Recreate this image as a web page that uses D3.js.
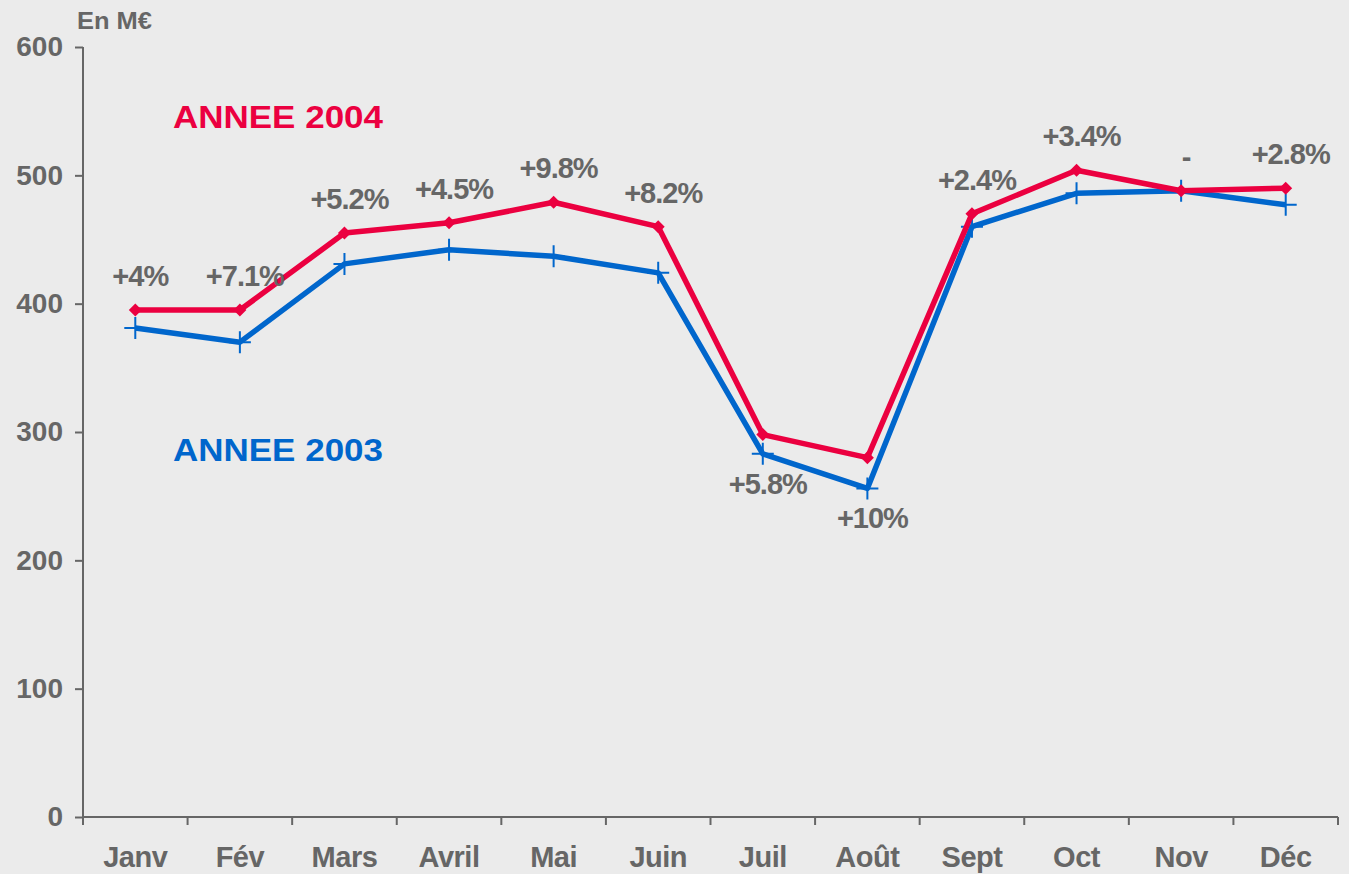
<!DOCTYPE html>
<html>
<head>
<meta charset="utf-8">
<script src="https://cdn.jsdelivr.net/npm/d3@7"></script>
<style>
  html, body { margin: 0; padding: 0; background: #ebebeb; }
  svg { display: block; font-family: "Liberation Sans", Arial, sans-serif; font-weight: bold; }
  .axis path, .axis line { stroke: #666; stroke-width: 2; }
  .axis text { fill: #666; font-size: 29px; letter-spacing: -0.5px; font-weight: bold; }
</style>
</head>
<body>
<div id="plot"></div>
<script>
// data
var months = ['Janv', 'Fév', 'Mars', 'Avril', 'Mai', 'Juin', 'Juil', 'Août', 'Sept', 'Oct', 'Nov', 'Déc'];
var values2004 = [395, 395, 455, 463, 479, 460, 298, 280, 470, 504, 488, 490];
var values2003 = [381, 370, 431, 442, 437, 424, 283, 256, 460, 486, 488, 477];
var growth = ['+4%', '+7.1%', '+5.2%', '+4.5%', '+9.8%', '+8.2%', '+5.8%', '+10%', '+2.4%', '+3.4%', '-', '+2.8%'];
var labelSide = ['up', 'up', 'up', 'up', 'up', 'up', 'down', 'down', 'up', 'up', 'up', 'up'];
var yTicks = [0, 100, 200, 300, 400, 500, 600];

var W = 1349, H = 874;
var margin = {t: 47, r: 11, b: 57, l: 83};
var width = W - margin.l - margin.r,
    height = H - margin.t - margin.b;

var red = '#eb0040', blue = '#0066cc', grey = '#666666';

var svg = d3.select('#plot').append('svg')
    .attr('width', W)
    .attr('height', H);

svg.append('rect').attr('width', W).attr('height', H).attr('fill', '#ebebeb');

var g = svg.append('g').attr('transform', 'translate(' + margin.l + ',' + margin.t + ')');

// scales
var x = d3.scaleBand().domain(months).range([0, width]).padding(0);
var y = d3.scaleLinear().domain([0, 600]).range([height, 0]);
var cx = function(d, i) { return x(months[i]) + x.bandwidth() / 2; };

// axes
var axisY = d3.axisLeft(y).tickValues(yTicks).tickSize(8).tickPadding(12);
var gy = g.append('g').attr('class', 'axis axis-y').call(axisY);
gy.select('.domain').attr('d', 'M0,0V' + height);
gy.selectAll('text').style('font-size', '28px').style('letter-spacing', '0px');

var axisX = d3.axisBottom(x).tickSize(0).tickPadding(0);
var gx = g.append('g').attr('class', 'axis axis-x').attr('transform', 'translate(0,' + height + ')').call(axisX);
gx.select('.domain').attr('d', 'M0,0H' + width);
gx.selectAll('text').attr('y', 50).attr('dy', 0);

// ticks at band boundaries
gx.selectAll('.bound')
    .data(months.map(function(m) { return x(m); }).concat([width]))
    .enter().append('line')
    .attr('class', 'bound')
    .attr('x1', function(d) { return d; })
    .attr('x2', function(d) { return d; })
    .attr('y1', 0)
    .attr('y2', 8);

// lines
var line = d3.line()
    .x(cx)
    .y(function(d) { return y(d); });

g.append('path').datum(values2003)
    .attr('fill', 'none').attr('stroke', blue).attr('stroke-width', 5.5)
    .attr('stroke-linejoin', 'round').attr('d', line);

g.append('g').selectAll('.plus')
    .data(values2003).enter().append('path')
    .attr('class', 'plus')
    .attr('transform', function(d, i) { return 'translate(' + cx(d, i) + ',' + y(d) + ')'; })
    .attr('d', 'M-11,0H11M0,-11V11')
    .attr('stroke', blue).attr('stroke-width', 2);

g.append('path').datum(values2004)
    .attr('fill', 'none').attr('stroke', red).attr('stroke-width', 5.5)
    .attr('stroke-linejoin', 'round').attr('d', line);

g.append('g').selectAll('.diamond')
    .data(values2004).enter().append('path')
    .attr('class', 'diamond')
    .attr('transform', function(d, i) { return 'translate(' + cx(d, i) + ',' + y(d) + ')'; })
    .attr('d', 'M0,-6.5L6.5,0L0,6.5L-6.5,0Z')
    .attr('fill', red);

// growth labels
g.append('g').selectAll('.growth')
    .data(growth).enter().append('text')
    .attr('class', 'growth')
    .attr('x', function(d, i) { return cx(d, i) + 5; })
    .attr('y', function(d, i) {
        return labelSide[i] === 'up' ? y(values2004[i]) - 24 : y(values2003[i]) + 40;
    })
    .attr('text-anchor', 'middle')
    .attr('fill', grey)
    .style('font-size', '29px')
    .style('letter-spacing', '-1px')
    .text(function(d) { return d; });

// series titles and unit
svg.append('text').attr('x', 173).attr('y', 128)
    .attr('fill', red).style('font-size', '32px')
    .attr('textLength', 210).attr('lengthAdjust', 'spacingAndGlyphs')
    .text('ANNEE 2004');
svg.append('text').attr('x', 173).attr('y', 461)
    .attr('fill', blue).style('font-size', '32px')
    .attr('textLength', 210).attr('lengthAdjust', 'spacingAndGlyphs')
    .text('ANNEE 2003');
svg.append('text').attr('x', 77).attr('y', 29)
    .attr('fill', grey).style('font-size', '23px')
    .attr('textLength', 75).attr('lengthAdjust', 'spacingAndGlyphs')
    .text('En M€');
</script>
</body>
</html>
